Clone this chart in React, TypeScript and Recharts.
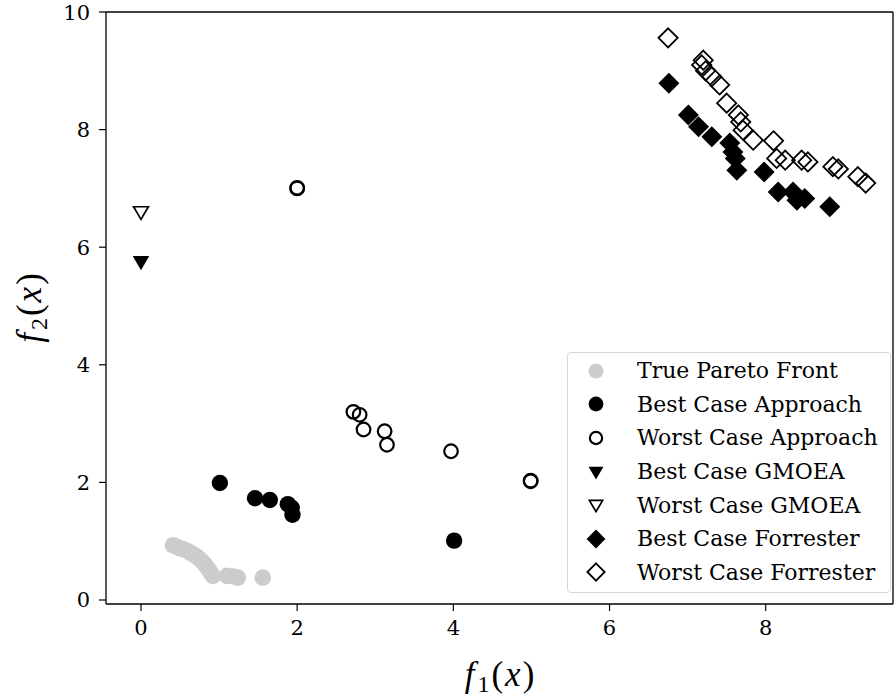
import { ScatterChart, Scatter, XAxis, YAxis, ReferenceLine } from "recharts";

// f1 / f2 values
const truePareto = [
  { x: 0.41, y: 0.93 }, { x: 0.45, y: 0.91 }, { x: 0.5, y: 0.88 }, { x: 0.55, y: 0.86 },
  { x: 0.6, y: 0.83 }, { x: 0.65, y: 0.79 }, { x: 0.7, y: 0.75 }, { x: 0.74, y: 0.71 },
  { x: 0.78, y: 0.66 }, { x: 0.82, y: 0.6 }, { x: 0.86, y: 0.53 }, { x: 0.89, y: 0.47 },
  { x: 0.92, y: 0.41 }, { x: 1.1, y: 0.41 }, { x: 1.18, y: 0.4 }, { x: 1.24, y: 0.38 },
  { x: 1.56, y: 0.38 },
];

const bestApproach = [
  { x: 1.01, y: 1.99 }, { x: 1.46, y: 1.73 }, { x: 1.65, y: 1.7 }, { x: 1.88, y: 1.63 },
  { x: 1.93, y: 1.57 }, { x: 1.94, y: 1.45 }, { x: 4.01, y: 1.01 },
];

const worstApproach = [
  { x: 2.0, y: 7.0 }, { x: 2.0, y: 7.01 }, { x: 2.72, y: 3.2 }, { x: 2.8, y: 3.15 },
  { x: 2.85, y: 2.9 }, { x: 3.12, y: 2.87 }, { x: 3.15, y: 2.64 }, { x: 3.97, y: 2.53 },
  { x: 4.99, y: 2.02 }, { x: 4.99, y: 2.03 },
];

const bestGmoea = [{ x: 0, y: 5.75 }];
const worstGmoea = [{ x: 0, y: 6.6 }];

const bestForrester = [
  { x: 6.76, y: 8.79 }, { x: 7.01, y: 8.25 }, { x: 7.14, y: 8.05 }, { x: 7.31, y: 7.88 },
  { x: 7.54, y: 7.77 }, { x: 7.58, y: 7.62 }, { x: 7.61, y: 7.51 }, { x: 7.63, y: 7.31 },
  { x: 7.98, y: 7.28 }, { x: 8.16, y: 6.94 }, { x: 8.35, y: 6.94 }, { x: 8.4, y: 6.8 },
  { x: 8.5, y: 6.83 }, { x: 8.82, y: 6.69 },
];

const worstForrester = [
  { x: 6.75, y: 9.56 }, { x: 7.2, y: 9.18 }, { x: 7.18, y: 9.1 }, { x: 7.23, y: 9.0 },
  { x: 7.31, y: 8.9 }, { x: 7.41, y: 8.76 }, { x: 7.5, y: 8.45 }, { x: 7.65, y: 8.25 },
  { x: 7.68, y: 8.13 }, { x: 7.71, y: 7.99 }, { x: 7.84, y: 7.82 }, { x: 8.1, y: 7.81 },
  { x: 8.14, y: 7.51 }, { x: 8.25, y: 7.48 }, { x: 8.46, y: 7.48 }, { x: 8.54, y: 7.45 },
  { x: 8.86, y: 7.37 }, { x: 8.93, y: 7.33 }, { x: 9.18, y: 7.2 }, { x: 9.28, y: 7.09 },
];

const xTicks = [0, 2, 4, 6, 8];
const yTicks = [0, 2, 4, 6, 8, 10];
const xDomain = [-0.448, 9.63];
const yDomain = [-0.068, 10];

const seriesNames = [
  "True Pareto Front",
  "Best Case Approach",
  "Worst Case Approach",
  "Best Case GMOEA",
  "Worst Case GMOEA",
  "Best Case Forrester",
  "Worst Case Forrester",
];

const serif = "'DejaVu Serif', serif";
const mathFont = "'Liberation Serif', 'DejaVu Serif', serif";

type Kind = "grayDot" | "dot" | "ring" | "triFill" | "triOpen" | "diaFill" | "diaOpen";
const kinds: Kind[] = ["grayDot", "dot", "ring", "triFill", "triOpen", "diaFill", "diaOpen"];

function tri(cx: number, cy: number, w: number) {
  return `M${cx - w},${cy - w * 0.7} L${cx + w},${cy - w * 0.7} L${cx},${cy + w} Z`;
}

function dia(cx: number, cy: number, h: number) {
  return `M${cx},${cy - h} L${cx + h},${cy} L${cx},${cy + h} L${cx - h},${cy} Z`;
}

function marker(kind: Kind, cx: number, cy: number, s = 1) {
  switch (kind) {
    case "grayDot":
      return <circle cx={cx} cy={cy} r={8.3 * s} fill="#cccccc" />;
    case "dot":
      return <circle cx={cx} cy={cy} r={8.2 * s} fill="#000" />;
    case "ring":
      return <circle cx={cx} cy={cy} r={6.8 * s} fill="none" stroke="#000" strokeWidth={2.2} />;
    case "triFill":
      return <path d={tri(cx, cy, 8.3 * s)} fill="#000" />;
    case "triOpen":
      return <path d={tri(cx, cy, 7.4 * s)} fill="none" stroke="#000" strokeWidth={1.7} />;
    case "diaFill":
      return <path d={dia(cx, cy, 10.5 * s)} fill="#000" />;
    case "diaOpen":
      return <path d={dia(cx, cy, 9.6 * s)} fill="none" stroke="#000" strokeWidth={1.8} />;
  }
}

const shapeFor = (kind: Kind) => (props: any) => marker(kind, props.cx, props.cy);

function LegendBox() {
  return (
    <div
      style={{
        position: "absolute",
        left: 567,
        top: 352,
        width: 324,
        height: 241,
        border: "1px solid #d6d6d6",
        borderRadius: 4,
        background: "rgba(255,255,255,0.8)",
        paddingTop: 1,
        boxSizing: "border-box",
      }}
    >
      {seriesNames.map((name, i) => (
        <div key={name} style={{ display: "flex", alignItems: "center", height: 33.6 }}>
          <svg width={60} height={30} style={{ flex: "none", marginLeft: 6 }}>
            {marker(kinds[i], 22, 15, 0.9)}
          </svg>
          <span style={{ fontFamily: serif, fontSize: 22, color: "#000", marginLeft: 3, whiteSpace: "nowrap" }}>
            {name}
          </span>
        </div>
      ))}
    </div>
  );
}

function MathLabel({ x, y, sub, rotate }: { x: number; y: number; sub: string; rotate?: boolean }) {
  return (
    <text
      x={x}
      y={y}
      transform={rotate ? `rotate(-90, ${x}, ${y})` : undefined}
      textAnchor="middle"
      fontFamily={mathFont}
      fontSize={35}
      fill="#000"
    >
      <tspan fontStyle="italic">f</tspan>
      <tspan fontSize={24} dx={3} dy={6}>{sub}</tspan>
      <tspan dx={2} dy={-6}>(</tspan>
      <tspan fontStyle="italic" dx={2}>x</tspan>
      <tspan dx={2}>)</tspan>
    </text>
  );
}

function XLabel(props: any) {
  const { viewBox } = props;
  return <MathLabel x={viewBox.x + viewBox.width / 2} y={viewBox.y + 82} sub="1" />;
}

function YLabel(props: any) {
  const { viewBox } = props;
  return <MathLabel x={41} y={viewBox.y + viewBox.height / 2} sub="2" rotate />;
}

const tickStyle = { fontFamily: serif, fontSize: 21, fill: "#000" };

export default function App() {
  return (
    <div style={{ position: "absolute", left: 0, top: 0, width: 894, height: 696, background: "#fff" }}>
      <ScatterChart width={894} height={696} margin={{ top: 12, right: 1, bottom: 0, left: 0 }}>
        <XAxis
          type="number"
          dataKey="x"
          domain={xDomain}
          ticks={xTicks}
          allowDataOverflow
          height={92}
          tickSize={7}
          tickMargin={9}
          tick={tickStyle}
          axisLine={{ stroke: "#000", strokeWidth: 1.3 }}
          tickLine={{ stroke: "#000", strokeWidth: 1.2 }}
          label={<XLabel />}
        />
        <YAxis
          type="number"
          dataKey="y"
          domain={yDomain}
          ticks={yTicks}
          allowDataOverflow
          width={106}
          tickSize={7}
          tickMargin={9}
          tick={tickStyle}
          axisLine={{ stroke: "#000", strokeWidth: 1.3 }}
          tickLine={{ stroke: "#000", strokeWidth: 1.2 }}
          label={<YLabel />}
        />
        <ReferenceLine y={yDomain[1]} stroke="#000" strokeWidth={1.3} />
        <ReferenceLine x={xDomain[1]} stroke="#000" strokeWidth={1.3} />
        <Scatter name={seriesNames[0]} data={truePareto} shape={shapeFor("grayDot")} isAnimationActive={false} />
        <Scatter name={seriesNames[1]} data={bestApproach} shape={shapeFor("dot")} isAnimationActive={false} />
        <Scatter name={seriesNames[2]} data={worstApproach} shape={shapeFor("ring")} isAnimationActive={false} />
        <Scatter name={seriesNames[3]} data={bestGmoea} shape={shapeFor("triFill")} isAnimationActive={false} />
        <Scatter name={seriesNames[4]} data={worstGmoea} shape={shapeFor("triOpen")} isAnimationActive={false} />
        <Scatter name={seriesNames[5]} data={bestForrester} shape={shapeFor("diaFill")} isAnimationActive={false} />
        <Scatter name={seriesNames[6]} data={worstForrester} shape={shapeFor("diaOpen")} isAnimationActive={false} />
      </ScatterChart>
      <LegendBox />
    </div>
  );
}
